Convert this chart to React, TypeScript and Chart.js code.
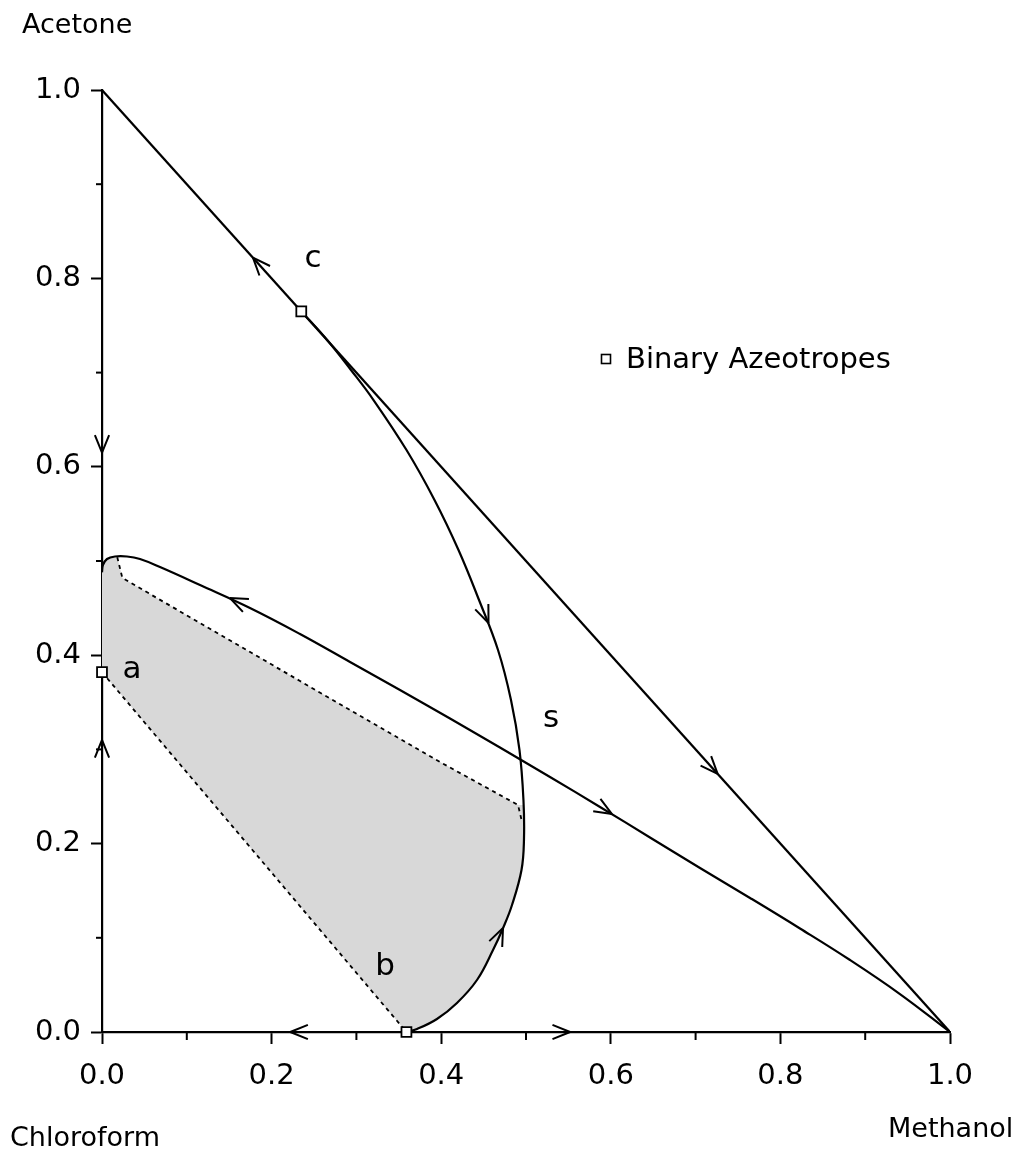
import React, { useEffect, useRef } from 'react';
import { Chart, registerables } from 'chart.js';

Chart.register(...registerables);

type Pt = { x: number; y: number };

const FONT = '"DejaVu Sans", sans-serif';

// Mole fractions: x = methanol, y = acetone (chloroform is the remainder)
const tickValues = [0, 0.2, 0.4, 0.6, 0.8, 1.0];
const minorTickValues = [0.1, 0.3, 0.5, 0.7, 0.9];

// Acetone–methanol edge of the composition triangle
const acetoneMethanolEdge: Pt[] = [
  { x: 0, y: 1 },
  { x: 1, y: 0 },
];

// Binary azeotropes: a (chloroform–acetone), b (chloroform–methanol), c (acetone–methanol)
const binaryAzeotropes: Pt[] = [
  { x: 0, y: 0.382 },
  { x: 0.359, y: 0 },
  { x: 0.235, y: 0.765 },
];

// Residue curve running from c through the saddle s down to b
const boundaryCB: Pt[] = [
  { x: 0.235, y: 0.765 },
  { x: 0.2655, y: 0.7346 },
  { x: 0.2936, y: 0.7028 },
  { x: 0.3202, y: 0.6709 },
  { x: 0.3591, y: 0.6178 },
  { x: 0.3921, y: 0.5648 },
  { x: 0.4204, y: 0.5117 },
  { x: 0.4446, y: 0.4586 },
  { x: 0.467, y: 0.4055 },
  { x: 0.4823, y: 0.3524 },
  { x: 0.4923, y: 0.2994 },
  { x: 0.497, y: 0.2463 },
  { x: 0.4976, y: 0.2038 },
  { x: 0.4947, y: 0.172 },
  { x: 0.4835, y: 0.1348 },
  { x: 0.4735, y: 0.1115 },
  { x: 0.4611, y: 0.087 },
  { x: 0.4422, y: 0.0552 },
  { x: 0.4186, y: 0.0308 },
  { x: 0.395, y: 0.0138 },
  { x: 0.3715, y: 0.0032 },
  { x: 0.359, y: 0 },
];

// Residue curve from the chloroform–acetone edge through s to pure methanol
const boundaryAM: Pt[] = [
  { x: 0, y: 0.488 },
  { x: 0.0012, y: 0.4958 },
  { x: 0.0059, y: 0.5021 },
  { x: 0.0153, y: 0.5048 },
  { x: 0.0295, y: 0.5048 },
  { x: 0.0448, y: 0.5021 },
  { x: 0.0684, y: 0.4936 },
  { x: 0.1156, y: 0.4745 },
  { x: 0.1745, y: 0.4501 },
  { x: 0.2335, y: 0.4225 },
  { x: 0.2925, y: 0.3928 },
  { x: 0.3514, y: 0.3631 },
  { x: 0.4104, y: 0.3328 },
  { x: 0.4693, y: 0.302 },
  { x: 0.5283, y: 0.2707 },
  { x: 0.5873, y: 0.2389 },
  { x: 0.6462, y: 0.2065 },
  { x: 0.7052, y: 0.1741 },
  { x: 0.7642, y: 0.1423 },
  { x: 0.8231, y: 0.1099 },
  { x: 0.8821, y: 0.0764 },
  { x: 0.941, y: 0.0403 },
  { x: 1, y: 0 },
];

// Dotted outline of the shaded region
const dottedUpper: Pt[] = [
  { x: 0.018, y: 0.504 },
  { x: 0.024, y: 0.482 },
  { x: 0.2335, y: 0.3726 },
  { x: 0.3986, y: 0.2866 },
  { x: 0.4906, y: 0.241 },
  { x: 0.4945, y: 0.226 },
];
const dottedLower: Pt[] = [
  { x: 0, y: 0.382 },
  { x: 0.359, y: 0 },
];

// Shaded region (closed polygon)
const shadedRegion: Pt[] = [
  { x: 0, y: 0.382 },
  { x: 0, y: 0.488 },
  { x: 0.0012, y: 0.4958 },
  { x: 0.0059, y: 0.5021 },
  { x: 0.018, y: 0.504 },
  { x: 0.024, y: 0.482 },
  { x: 0.2335, y: 0.3726 },
  { x: 0.3986, y: 0.2866 },
  { x: 0.4906, y: 0.241 },
  { x: 0.4972, y: 0.241 },
  { x: 0.4976, y: 0.2038 },
  { x: 0.4947, y: 0.172 },
  { x: 0.4835, y: 0.1348 },
  { x: 0.4735, y: 0.1115 },
  { x: 0.4611, y: 0.087 },
  { x: 0.4422, y: 0.0552 },
  { x: 0.4186, y: 0.0308 },
  { x: 0.395, y: 0.0138 },
  { x: 0.3715, y: 0.0032 },
  { x: 0.359, y: 0 },
  { x: 0, y: 0.382 },
];

// Direction arrows: tip point and a point behind it on the same curve
const arrowTips: Pt[] = [
  { x: 0.178, y: 0.822 },
  { x: 0.726, y: 0.274 },
  { x: 0, y: 0.615 },
  { x: 0, y: 0.31 },
  { x: 0.222, y: 0 },
  { x: 0.552, y: 0 },
  { x: 0.4558, y: 0.4342 },
  { x: 0.4729, y: 0.1104 },
  { x: 0.1509, y: 0.4607 },
  { x: 0.6014, y: 0.2314 },
];
const arrowTails: Pt[] = [
  { x: 0.2, y: 0.8 },
  { x: 0.7, y: 0.3 },
  { x: 0, y: 0.65 },
  { x: 0, y: 0.28 },
  { x: 0.25, y: 0 },
  { x: 0.52, y: 0 },
  { x: 0.4446, y: 0.4586 },
  { x: 0.4611, y: 0.087 },
  { x: 0.2, y: 0.44 },
  { x: 0.5873, y: 0.2389 },
];

// Point labels (anchored at the text baseline centre)
const pointLabels = ['a', 'b', 'c', 's'];
const pointLabelAnchors: Pt[] = [
  { x: 0.0354, y: 0.3758 },
  { x: 0.3337, y: 0.0605 },
  { x: 0.2488, y: 0.8121 },
  { x: 0.5295, y: 0.3238 },
];

const legendLabel = 'Binary Azeotropes';

const overlayPlugin = {
  id: 'ternaryOverlay',
  afterDraw(chart: any) {
    const { ctx, scales } = chart;
    const xs = scales.x;
    const ys = scales.y;
    const px = (v: number) => xs.getPixelForValue(v);
    const py = (v: number) => ys.getPixelForValue(v);
    ctx.save();
    ctx.strokeStyle = '#000';
    ctx.fillStyle = '#000';

    // minor ticks
    ctx.lineWidth = 2;
    for (const v of minorTickValues) {
      const xp = px(v);
      ctx.beginPath();
      ctx.moveTo(xp, ys.bottom);
      ctx.lineTo(xp, ys.bottom + 8);
      ctx.stroke();
      const yp = py(v);
      ctx.beginPath();
      ctx.moveTo(xs.left, yp);
      ctx.lineTo(xs.left - 6, yp);
      ctx.stroke();
    }

    // open arrow heads
    ctx.lineWidth = 2;
    const len = 19;
    const ang = (22 * Math.PI) / 180;
    arrowTips.forEach((t, i) => {
      const f = arrowTails[i];
      const tx = px(t.x);
      const ty = py(t.y);
      const dx = tx - px(f.x);
      const dy = ty - py(f.y);
      const d = Math.hypot(dx, dy) || 1;
      const ux = dx / d;
      const uy = dy / d;
      ctx.beginPath();
      for (const s of [-1, 1]) {
        const c = Math.cos(s * ang);
        const sn = Math.sin(s * ang);
        const bx = ux * c - uy * sn;
        const by = ux * sn + uy * c;
        ctx.moveTo(tx - bx * len, ty - by * len);
        ctx.lineTo(tx, ty);
      }
      ctx.stroke();
    });

    // point labels
    ctx.font = `31px ${FONT}`;
    ctx.textAlign = 'center';
    ctx.textBaseline = 'alphabetic';
    pointLabels.forEach((s, i) => {
      ctx.fillText(s, px(pointLabelAnchors[i].x), py(pointLabelAnchors[i].y));
    });

    // component names at the triangle corners
    ctx.font = `27px ${FONT}`;
    ctx.textAlign = 'left';
    ctx.fillText('Acetone', 22, 33);
    ctx.fillText('Chloroform', 10, 1146);
    ctx.fillText('Methanol', 888, 1137);

    // legend
    ctx.lineWidth = 1.6;
    ctx.fillStyle = '#fff';
    ctx.fillRect(601.5, 354.5, 9, 9);
    ctx.strokeRect(601.5, 354.5, 9, 9);
    ctx.fillStyle = '#000';
    ctx.font = `29px ${FONT}`;
    ctx.fillText(legendLabel, 626, 368);
    ctx.restore();
  },
};

export default function App() {
  const canvasRef = useRef<HTMLCanvasElement | null>(null);

  useEffect(() => {
    const canvas = canvasRef.current;
    if (!canvas) return;
    const curve = (data: Pt[], tension = 0.4) => ({
      data,
      showLine: true,
      borderColor: '#000',
      borderWidth: 2.2,
      pointRadius: 0,
      tension,
      fill: false,
      order: 1,
    });
    const dotted = (data: Pt[]) => ({
      data,
      showLine: true,
      borderColor: '#000',
      borderWidth: 1.8,
      borderDash: [4, 4],
      pointRadius: 0,
      tension: 0,
      fill: false,
      order: 2,
    });
    const chart = new Chart(canvas, {
      type: 'scatter',
      data: {
        datasets: [
          {
            data: binaryAzeotropes,
            pointStyle: 'rect',
            pointRadius: 7,
            pointBorderWidth: 1.8,
            pointBackgroundColor: '#fff',
            pointBorderColor: '#000',
            showLine: false,
            clip: false,
            order: 0,
          } as any,
          curve(acetoneMethanolEdge, 0),
          curve(boundaryCB),
          curve(boundaryAM),
          dotted(dottedUpper),
          dotted(dottedLower),
          {
            data: shadedRegion,
            showLine: true,
            borderWidth: 0,
            borderColor: 'rgba(0,0,0,0)',
            backgroundColor: '#d8d8d8',
            pointRadius: 0,
            tension: 0,
            fill: 'shape',
            order: 5,
          } as any,
        ],
      },
      options: {
        animation: false,
        responsive: false,
        maintainAspectRatio: false,
        events: [],
        layout: { padding: { left: 0, top: 90, right: 78, bottom: 0 } },
        plugins: {
          legend: { display: false },
          tooltip: { enabled: false },
        },
        scales: {
          x: {
            type: 'linear',
            min: 0,
            max: 1,
            afterBuildTicks: (s: any) => {
              s.ticks = tickValues.map((v) => ({ value: v }));
            },
            ticks: {
              callback: (v: any) => Number(v).toFixed(1),
              color: '#000',
              font: { family: FONT, size: 29 },
              padding: 15,
              maxRotation: 0,
              autoSkip: false,
            },
            grid: {
              drawOnChartArea: false,
              drawTicks: true,
              tickLength: 12,
              tickColor: '#000',
              tickWidth: 2,
            },
            border: { display: true, color: '#000', width: 2.2 },
            afterFit: (s: any) => {
              s.height = 137;
            },
          },
          y: {
            type: 'linear',
            min: 0,
            max: 1,
            afterBuildTicks: (s: any) => {
              s.ticks = tickValues.map((v) => ({ value: v }));
            },
            ticks: {
              callback: (v: any) => Number(v).toFixed(1),
              color: '#000',
              font: { family: FONT, size: 29 },
              padding: 10,
              autoSkip: false,
            },
            grid: {
              drawOnChartArea: false,
              drawTicks: true,
              tickLength: 11,
              tickColor: '#000',
              tickWidth: 2,
            },
            border: { display: true, color: '#000', width: 2.2 },
            afterFit: (s: any) => {
              s.width = 102;
            },
          },
        },
      } as any,
      plugins: [overlayPlugin],
    });
    return () => chart.destroy();
  }, []);

  return (
    <div style={{ position: 'absolute', left: 0, top: 0, width: 1028, height: 1169, background: '#fff' }}>
      <canvas ref={canvasRef} width={1028} height={1169} style={{ display: 'block' }} />
    </div>
  );
}
